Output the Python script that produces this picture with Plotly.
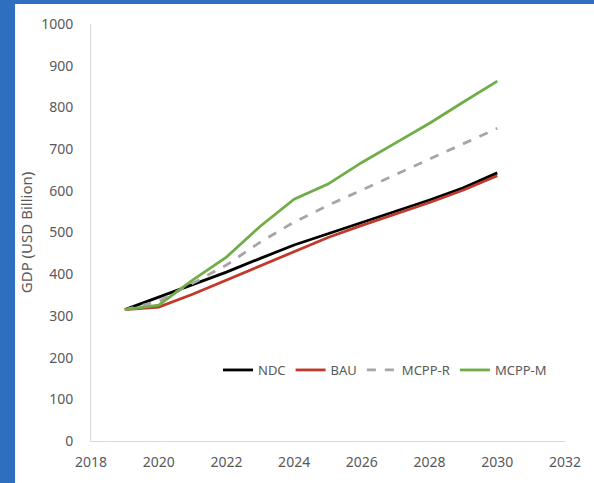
import plotly.graph_objects as go

years = [2019, 2020, 2021, 2022, 2023, 2024, 2025, 2026, 2027, 2028, 2029, 2030]
ndc = [315, 345, 375, 405, 438, 470, 497, 524, 550, 578, 607, 643]
bau = [315, 321, 352, 386, 420, 455, 488, 517, 544, 572, 602, 636]
mcpp_r = [315, 335, 378, 422, 477, 525, 565, 602, 638, 675, 712, 750]
mcpp_m = [315, 326, 386, 441, 515, 580, 616, 668, 715, 762, 813, 863]

series = [
    ("NDC", ndc, "#000000", "solid"),
    ("BAU", bau, "#C0392B", "solid"),
    ("MCPP-R", mcpp_r, "#A6A6A6", "dash"),
    ("MCPP-M", mcpp_m, "#70AD47", "solid"),
]

fig = go.Figure()
for name, vals, color, dash in series:
    fig.add_trace(go.Scatter(x=years, y=vals, name=name, mode="lines",
                             line=dict(color=color, width=2.8, dash=dash)))

W, H = 594, 483
L, R, T, B = 91, 29, 24, 42
pw, ph = W - L - R, H - T - B

def px_x(p):
    return (p - L) / pw

def px_y(p):
    return (H - B - p) / ph

fig.add_shape(type="rect", xref="paper", yref="paper",
              x0=px_x(15), x1=px_x(W + 5), y0=px_y(H + 5), y1=px_y(4),
              fillcolor="white", line=dict(width=0), layer="below")

fig.update_layout(
    width=W, height=H,
    margin=dict(l=L, r=R, t=T, b=B),
    paper_bgcolor="#2E6FBF",
    plot_bgcolor="white",
    font=dict(family="Noto Sans", size=13, color="#595959"),
    showlegend=True,
    legend=dict(orientation="h", x=px_x(218), y=px_y(370), xanchor="left", yanchor="middle",
                bgcolor="rgba(0,0,0,0)", font=dict(size=13, color="#595959"),
                itemwidth=30, tracegroupgap=0),
    xaxis=dict(range=[2018, 2032], tickvals=list(range(2018, 2033, 2)),
               showgrid=False, zeroline=False, showline=True, linecolor="#D9D9D9",
               linewidth=1, ticks="", ticklabelstandoff=8, fixedrange=True,
               tickfont=dict(size=14)),
    yaxis=dict(range=[0, 1000], tickvals=list(range(0, 1001, 100)),
               showgrid=False, zeroline=False, showline=True, linecolor="#D9D9D9",
               linewidth=1, ticks="", ticklabelstandoff=14, tickfont=dict(size=14),
               title=dict(text="GDP (USD Billion)", font=dict(size=15, color="#595959"), standoff=4)),
)

fig.write_html("out.html")
